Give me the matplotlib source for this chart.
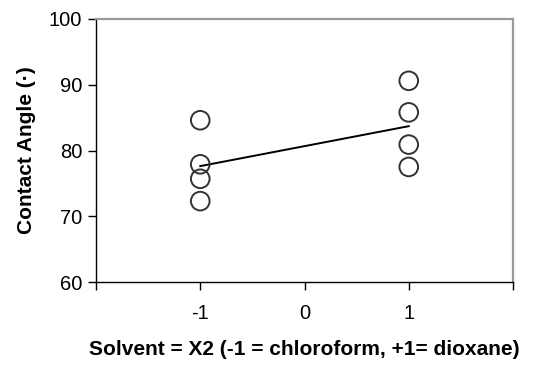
import numpy as np
import matplotlib.pyplot as plt

plt.rcParams['font.family'] = ['Liberation Sans', 'DejaVu Sans']

# contact angle measurements at the two solvent levels
solvent = [-1, -1, -1, -1, 1, 1, 1, 1]
angle = [84.6, 77.9, 75.7, 72.3, 90.6, 85.8, 80.9, 77.5]
xticks = [-2, -1, 0, 1, 2]
xticklabels = ['', '-1', '0', '1', '']
yticks = [60, 70, 80, 90, 100]

# least-squares line through the points
slope, icpt = np.polyfit(solvent, angle, 1)
fit_x = np.array([-1, 1])
fit_y = slope * fit_x + icpt

fig = plt.figure(figsize=(5.54, 3.72), dpi=100)
ax = fig.add_axes([96 / 554, 1 - 282 / 372, 417 / 554, 263 / 372])

ax.plot(fit_x, fit_y, color='black', lw=1.4, zorder=2)
ax.scatter(solvent, angle, s=180, facecolors='none', edgecolors='#333333',
           linewidths=1.4, zorder=3)

ax.set_xlim(-2, 2)
ax.set_ylim(60, 100)
ax.set_xticks(xticks)
ax.set_xticklabels(xticklabels)
ax.set_yticks(yticks)
ax.tick_params(direction='out', length=6, width=1, labelsize=14.5, colors='black')
ax.tick_params(axis='x', pad=10)
ax.tick_params(axis='y', pad=4)

for side in ['top', 'right']:
    ax.spines[side].set_color('#999999')
    ax.spines[side].set_linewidth(1.6)
for side in ['left', 'bottom']:
    ax.spines[side].set_linewidth(1)

ax.set_xlabel('Solvent = X2 (-1 = chloroform, +1= dioxane)', fontsize=15,
              fontweight='bold', labelpad=12)
ax.set_ylabel('Contact Angle (\u00b7)', fontsize=15, fontweight='bold', labelpad=9)

fig.savefig('out.png', dpi=100)
